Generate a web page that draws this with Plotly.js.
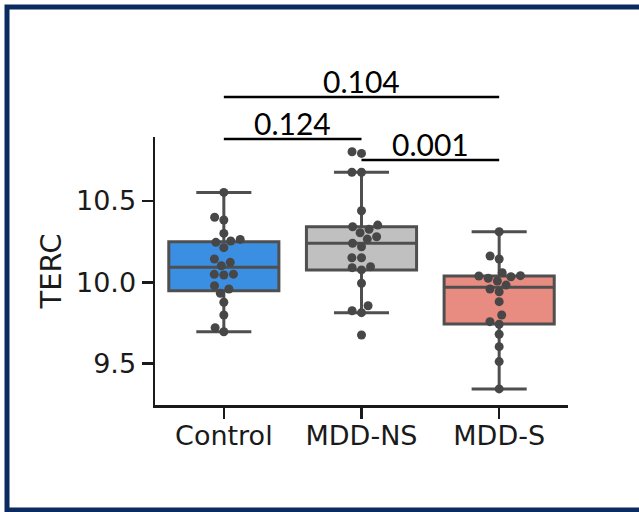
<!DOCTYPE html>
<html>
<head>
<meta charset="utf-8">
<script src="https://cdn.plot.ly/plotly-3.0.1.min.js"></script>
<style>html,body{margin:0;padding:0;background:#fff;}#chart{width:639px;height:512px;}</style>
</head>
<body>
<div id="chart"></div>
<script>
// ---------------- data ----------------
const categories = ['Control', 'MDD-NS', 'MDD-S'];
const controlValues = [10.553, 10.400, 10.383, 10.301, 10.264, 10.254, 10.246, 10.213, 10.143, 10.123,
  10.102, 10.049, 10.045, 10.050, 9.979, 9.959, 9.932, 9.877, 9.799, 9.721, 9.696];
const mddNsValues = [10.803, 10.793, 10.677, 10.677, 10.440, 10.352, 10.342, 10.326, 10.305, 10.280,
  10.266, 10.240, 10.219, 10.151, 10.151, 10.096, 10.090, 10.076, 9.994, 9.856, 9.825, 9.813, 9.676];
const mddSValues = [10.311, 10.162, 10.143, 10.059, 10.041, 10.039, 10.034, 10.025, 10.008, 9.983,
  9.959, 9.942, 9.881, 9.799, 9.758, 9.742, 9.680, 9.604, 9.512, 9.344];
const boxLowerFence = [9.696, 9.813, 9.344];
const boxQ1 = [9.948, 10.076, 9.744];
const boxMedian = [10.092, 10.240, 9.969];
const boxQ3 = [10.250, 10.342, 10.039];
const boxUpperFence = [10.553, 10.677, 10.311];
const yTickValues = [9.5, 10.0, 10.5];
const yTickLabels = ['9.5', '10.0', '10.5'];
const bracketPairs = [[0, 1], [1, 2], [0, 2]];
const bracketHeights = [10.881, 10.752, 11.140];
const bracketLabels = ['0.124', '0.001', '0.104'];

// ---------------- style / layout ----------------
const W = 639, H = 512;
const M = {l: 155, r: 71, t: 137, b: 107};
const plotW = W - M.l - M.r, plotH = H - M.t - M.b;
const yRange = [9.245, 10.894];
const xRange = [-0.5, 2.5];
const boxFill = ['#3a8fe3', '#c0c0c0', '#e88b80'];
const lineGray = '#4f4f4f';
const pointGray = '#474747';
const markerPx = 9;
const pxPerY = plotH / (yRange[1] - yRange[0]);
const pxPerX = plotW / (xRange[1] - xRange[0]);

function swarm(values, center) {
  const d = markerPx + 0.6;
  const idx = values.map((v, i) => i).sort((a, b) => values[a] - values[b]);
  const placed = [];
  const xs = new Array(values.length);
  idx.forEach(i => {
    const y = values[i] * pxPerY;
    const nb = placed.filter(p => Math.abs(p.y - y) < d);
    const cands = [0];
    nb.forEach(n => {
      const dx = Math.sqrt(d * d - (n.y - y) * (n.y - y));
      cands.push(n.x - dx, n.x + dx);
    });
    cands.sort((a, b) => (Math.abs(a) - Math.abs(b)) || (a - b));
    let chosen = 0;
    for (const c of cands) {
      if (nb.every(n => (c - n.x) * (c - n.x) + (y - n.y) * (y - n.y) >= d * d - 1e-6)) { chosen = c; break; }
    }
    placed.push({x: chosen, y: y});
    xs[i] = center + chosen / pxPerX;
  });
  return xs;
}

const groups = [controlValues, mddNsValues, mddSValues];
const traces = [];
categories.forEach((c, i) => {
  traces.push({
    type: 'box', name: c, x: [i],
    q1: [boxQ1[i]], median: [boxMedian[i]], q3: [boxQ3[i]],
    lowerfence: [boxLowerFence[i]], upperfence: [boxUpperFence[i]],
    width: 0.8, whiskerwidth: 0.5, boxpoints: false,
    fillcolor: boxFill[i], line: {color: lineGray, width: 3},
    hoverinfo: 'skip', showlegend: false
  });
});
categories.forEach((c, i) => {
  traces.push({
    type: 'scatter', mode: 'markers', name: c + ' points',
    x: swarm(groups[i], i), y: groups[i],
    marker: {color: pointGray, size: markerPx, line: {width: 0}},
    cliponaxis: false, showlegend: false, hoverinfo: 'skip'
  });
});

const toPaperY = v => (v - yRange[0]) / (yRange[1] - yRange[0]);
const shapes = [];
const annotations = [];
bracketPairs.forEach((p, k) => {
  shapes.push({type: 'line', xref: 'x', yref: 'paper', x0: p[0], x1: p[1],
    y0: toPaperY(bracketHeights[k]), y1: toPaperY(bracketHeights[k]),
    line: {color: '#000', width: 2.5}});
  annotations.push({xref: 'x', yref: 'paper', x: (p[0] + p[1]) / 2, y: toPaperY(bracketHeights[k]),
    text: bracketLabels[k], showarrow: false, yanchor: 'bottom', xanchor: 'center', yshift: -4,
    font: {family: 'Lato, DejaVu Sans, sans-serif', size: 30, color: '#000'}});
});
// outer navy frame
const px2x = px => (px - M.l) / plotW;
const px2y = py => (H - M.b - py) / plotH;
shapes.push({type: 'rect', xref: 'paper', yref: 'paper', x0: px2x(7), x1: px2x(650), y0: px2y(510), y1: px2y(7),
  line: {color: '#0a2a60', width: 5}, fillcolor: 'rgba(0,0,0,0)'});

const layout = {
  width: W, height: H, margin: M,
  paper_bgcolor: '#fff', plot_bgcolor: '#fff',
  font: {family: 'DejaVu Sans, sans-serif', color: '#1a1a1a'},
  showlegend: false,
  xaxis: {range: xRange, tickmode: 'array', tickvals: [0, 1, 2], ticktext: categories,
    showline: true, linecolor: '#1a1a1a', linewidth: 2.5, showgrid: false, zeroline: false,
    ticks: 'outside', ticklen: 11, tickwidth: 2.5, tickcolor: '#1a1a1a', ticklabelstandoff: -6,
    tickfont: {size: 27, color: '#1a1a1a'}, fixedrange: true},
  yaxis: {range: yRange, tickmode: 'array', tickvals: yTickValues, ticktext: yTickLabels,
    showline: true, linecolor: '#1a1a1a', linewidth: 2.5, showgrid: false, zeroline: false,
    ticks: 'outside', ticklen: 11, tickwidth: 2.5, tickcolor: '#1a1a1a',
    tickfont: {size: 27, color: '#1a1a1a'},
    title: {text: 'TERC', font: {size: 29, color: '#1a1a1a'}, standoff: 6}, fixedrange: true},
  shapes: shapes, annotations: annotations
};
Plotly.newPlot('chart', traces, layout, {displayModeBar: false, staticPlot: true});
</script>
</body>
</html>
